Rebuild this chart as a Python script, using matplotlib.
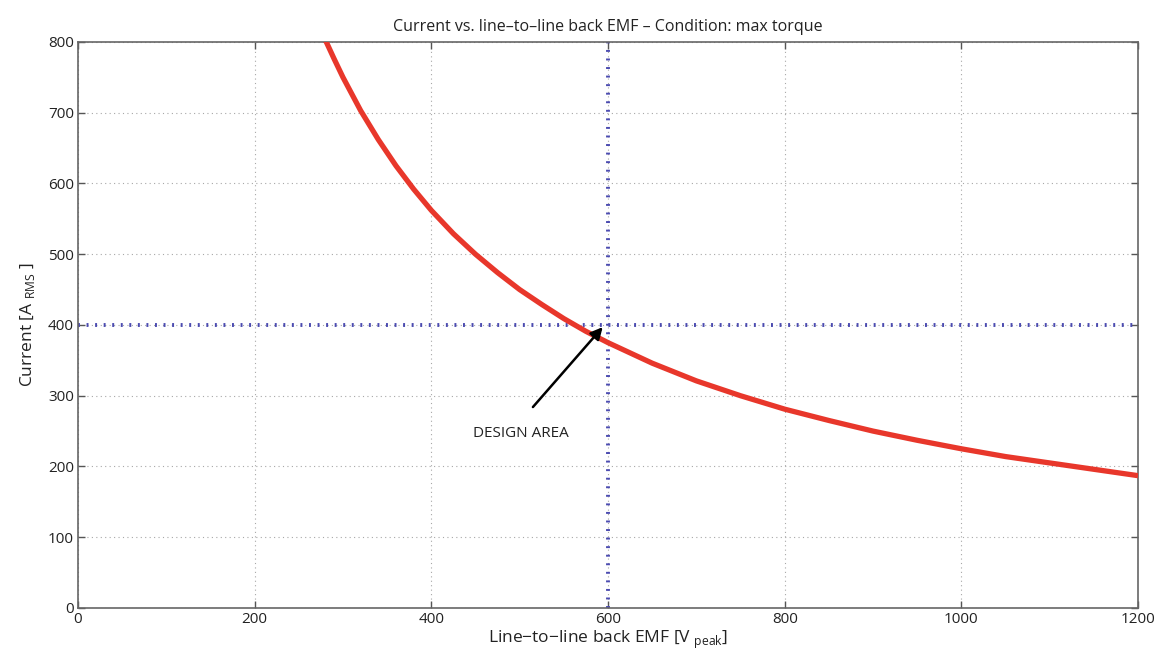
import numpy as np
import matplotlib
matplotlib.use("Agg")
import matplotlib.pyplot as plt

plt.rcParams['font.family'] = ['Open Sans', 'DejaVu Sans']

# values
emf = [280, 290, 300, 320, 340, 360, 380, 400, 425, 450, 475, 500, 525, 550,
       575, 600, 650, 700, 750, 800, 850, 900, 950, 1000, 1050, 1100, 1150, 1200]
current = [803, 776, 750, 703, 662, 625, 592, 562, 529, 500, 474, 450, 429, 409,
           391, 375, 346, 321, 300, 281, 265, 250, 237, 225, 214, 205, 196, 187]

design_emf = 600
design_current = 400

xticks = [0, 200, 400, 600, 800, 1000, 1200]
yticks = [0, 100, 200, 300, 400, 500, 600, 700, 800]

fig = plt.figure(figsize=(11.67, 6.63), dpi=100)
ax = fig.add_axes([0.0668, 0.083, 0.9084, 0.8537])

ax.plot(emf, current, color='#e8372b', lw=3.8, zorder=3, solid_capstyle='butt')

blue = '#4b4bb0'
ax.axhline(design_current, color=blue, lw=2.8, linestyle=(0, (0.5, 1.7)), zorder=2)
ax.axvline(design_emf, color=blue, lw=2.8, linestyle=(0, (0.5, 1.7)), zorder=2)

ax.annotate('', xy=(594, 397), xytext=(515, 284),
            arrowprops=dict(arrowstyle='-|>', color='black', lw=1.8,
                            mutation_scale=18, shrinkA=0, shrinkB=0), zorder=4)
ax.text(501, 247, 'DESIGN AREA', ha='center', va='center', fontsize=11, color='#222222')

ax.set_xlim(0, 1200)
ax.set_ylim(0, 800)
ax.set_xticks(xticks)
ax.set_yticks(yticks)
ax.grid(True, color='#a8a8a8', linestyle=(0, (1, 3)), lw=0.8)
ax.tick_params(direction='in', top=True, right=True, length=5, width=1,
               color='#555555', labelsize=11, labelcolor='#222222', pad=3)
for s in ax.spines.values():
    s.set_color('#666666')
    s.set_linewidth(1.2)

ax.set_title('Current vs. line\u2013to\u2013line back EMF \u2013 Condition: max torque',
             fontsize=11.5, color='#222222', pad=8)
ax.set_xlabel(r'Line$\mathregular{-}$to$\mathregular{-}$line back EMF [V $_{\mathregular{peak}}$]',
              fontsize=12.5, color='#222222', labelpad=1)
ax.set_ylabel(r'Current [A $_{\mathregular{RMS}}$ ]', fontsize=12.5, color='#222222', labelpad=8)

fig.savefig('out.png', dpi=100, facecolor='white')
